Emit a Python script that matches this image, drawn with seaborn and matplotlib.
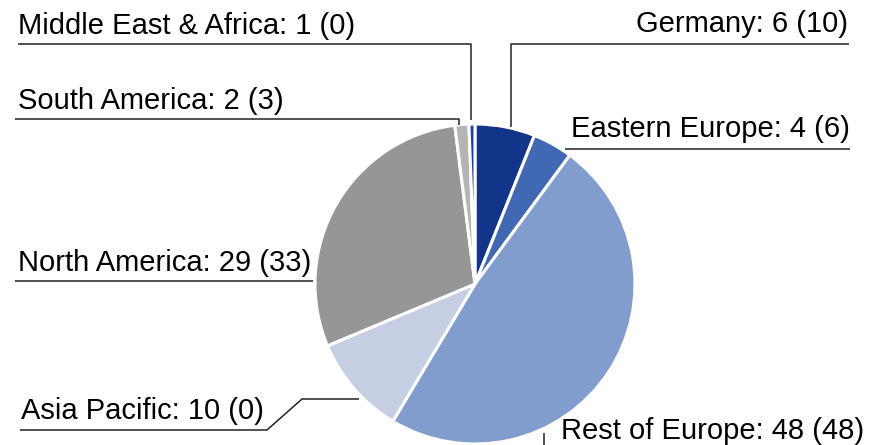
"""Regional split pie chart with underlined leader labels"""

import matplotlib
matplotlib.use("Agg")
import matplotlib.pyplot as plt
import seaborn as sns

regions = ["Germany", "Eastern Europe", "Rest of Europe", "Asia Pacific",
           "North America", "South America", "Middle East & Africa"]
current = [6, 4, 48, 10, 29, 2, 1]
previous = [10, 6, 48, 0, 33, 3, 0]
# wedge shares (small slices are narrower than their rounded labels)
shares = [6, 4, 48, 10, 29, 1.4, 0.6]
colors = ["#12358a", "#4169b3", "#809dce", "#c5cee2", "#969696", "#b4b4b4", "#1f3f98"]

sns.set_theme(style="white")
plt.rcParams["font.family"] = ["Liberation Sans", "DejaVu Sans"]

W, H = 870, 445
fig = plt.figure(figsize=(W / 100, H / 100), dpi=100)
ax = fig.add_axes([0, 0, 1, 1])


def py(y):
    # pixel row -> data y
    return H - y


ax.pie(shares, colors=colors, startangle=90, counterclock=False,
       center=(475, py(284)), radius=160, frame=True,
       wedgeprops=dict(edgecolor="white", linewidth=2.2))
ax.set_xlim(0, W)
ax.set_ylim(0, H)
ax.set_aspect("equal")
ax.axis("off")

labels = [f"{r}: {c} ({p})" for r, c, p in zip(regions, current, previous)]
fs = 21
lc = "#222222"
lw = 1.1

# (text x, text y, ha, leader polyline in pixels)
layout = {
    "Germany": (848, 24, "right", [(849, 44), (511, 44), (511, 127)]),
    "Eastern Europe": (850, 129, "right", [(850, 149), (565, 149)]),
    "Rest of Europe": (561, 431, "left", [(544, 433), (544, 445)]),
    "Asia Pacific": (21, 411, "left", [(20, 430), (267, 430), (302, 399), (359, 399)]),
    "North America": (18, 263, "left", [(15, 281), (313, 281)]),
    "South America": (18, 101, "left", [(15, 119), (459, 119), (459, 125)]),
    "Middle East & Africa": (18, 26, "left", [(18, 44), (471, 44), (471, 120)]),
}

for reg, lab in zip(regions, labels):
    tx, ty, ha, pts = layout[reg]
    ax.text(tx, py(ty), lab, ha=ha, va="center", fontsize=fs, color="black")
    ax.plot([p[0] for p in pts], [py(p[1]) for p in pts], color=lc, lw=lw,
            solid_capstyle="butt")

fig.savefig("out.png", dpi=100)
